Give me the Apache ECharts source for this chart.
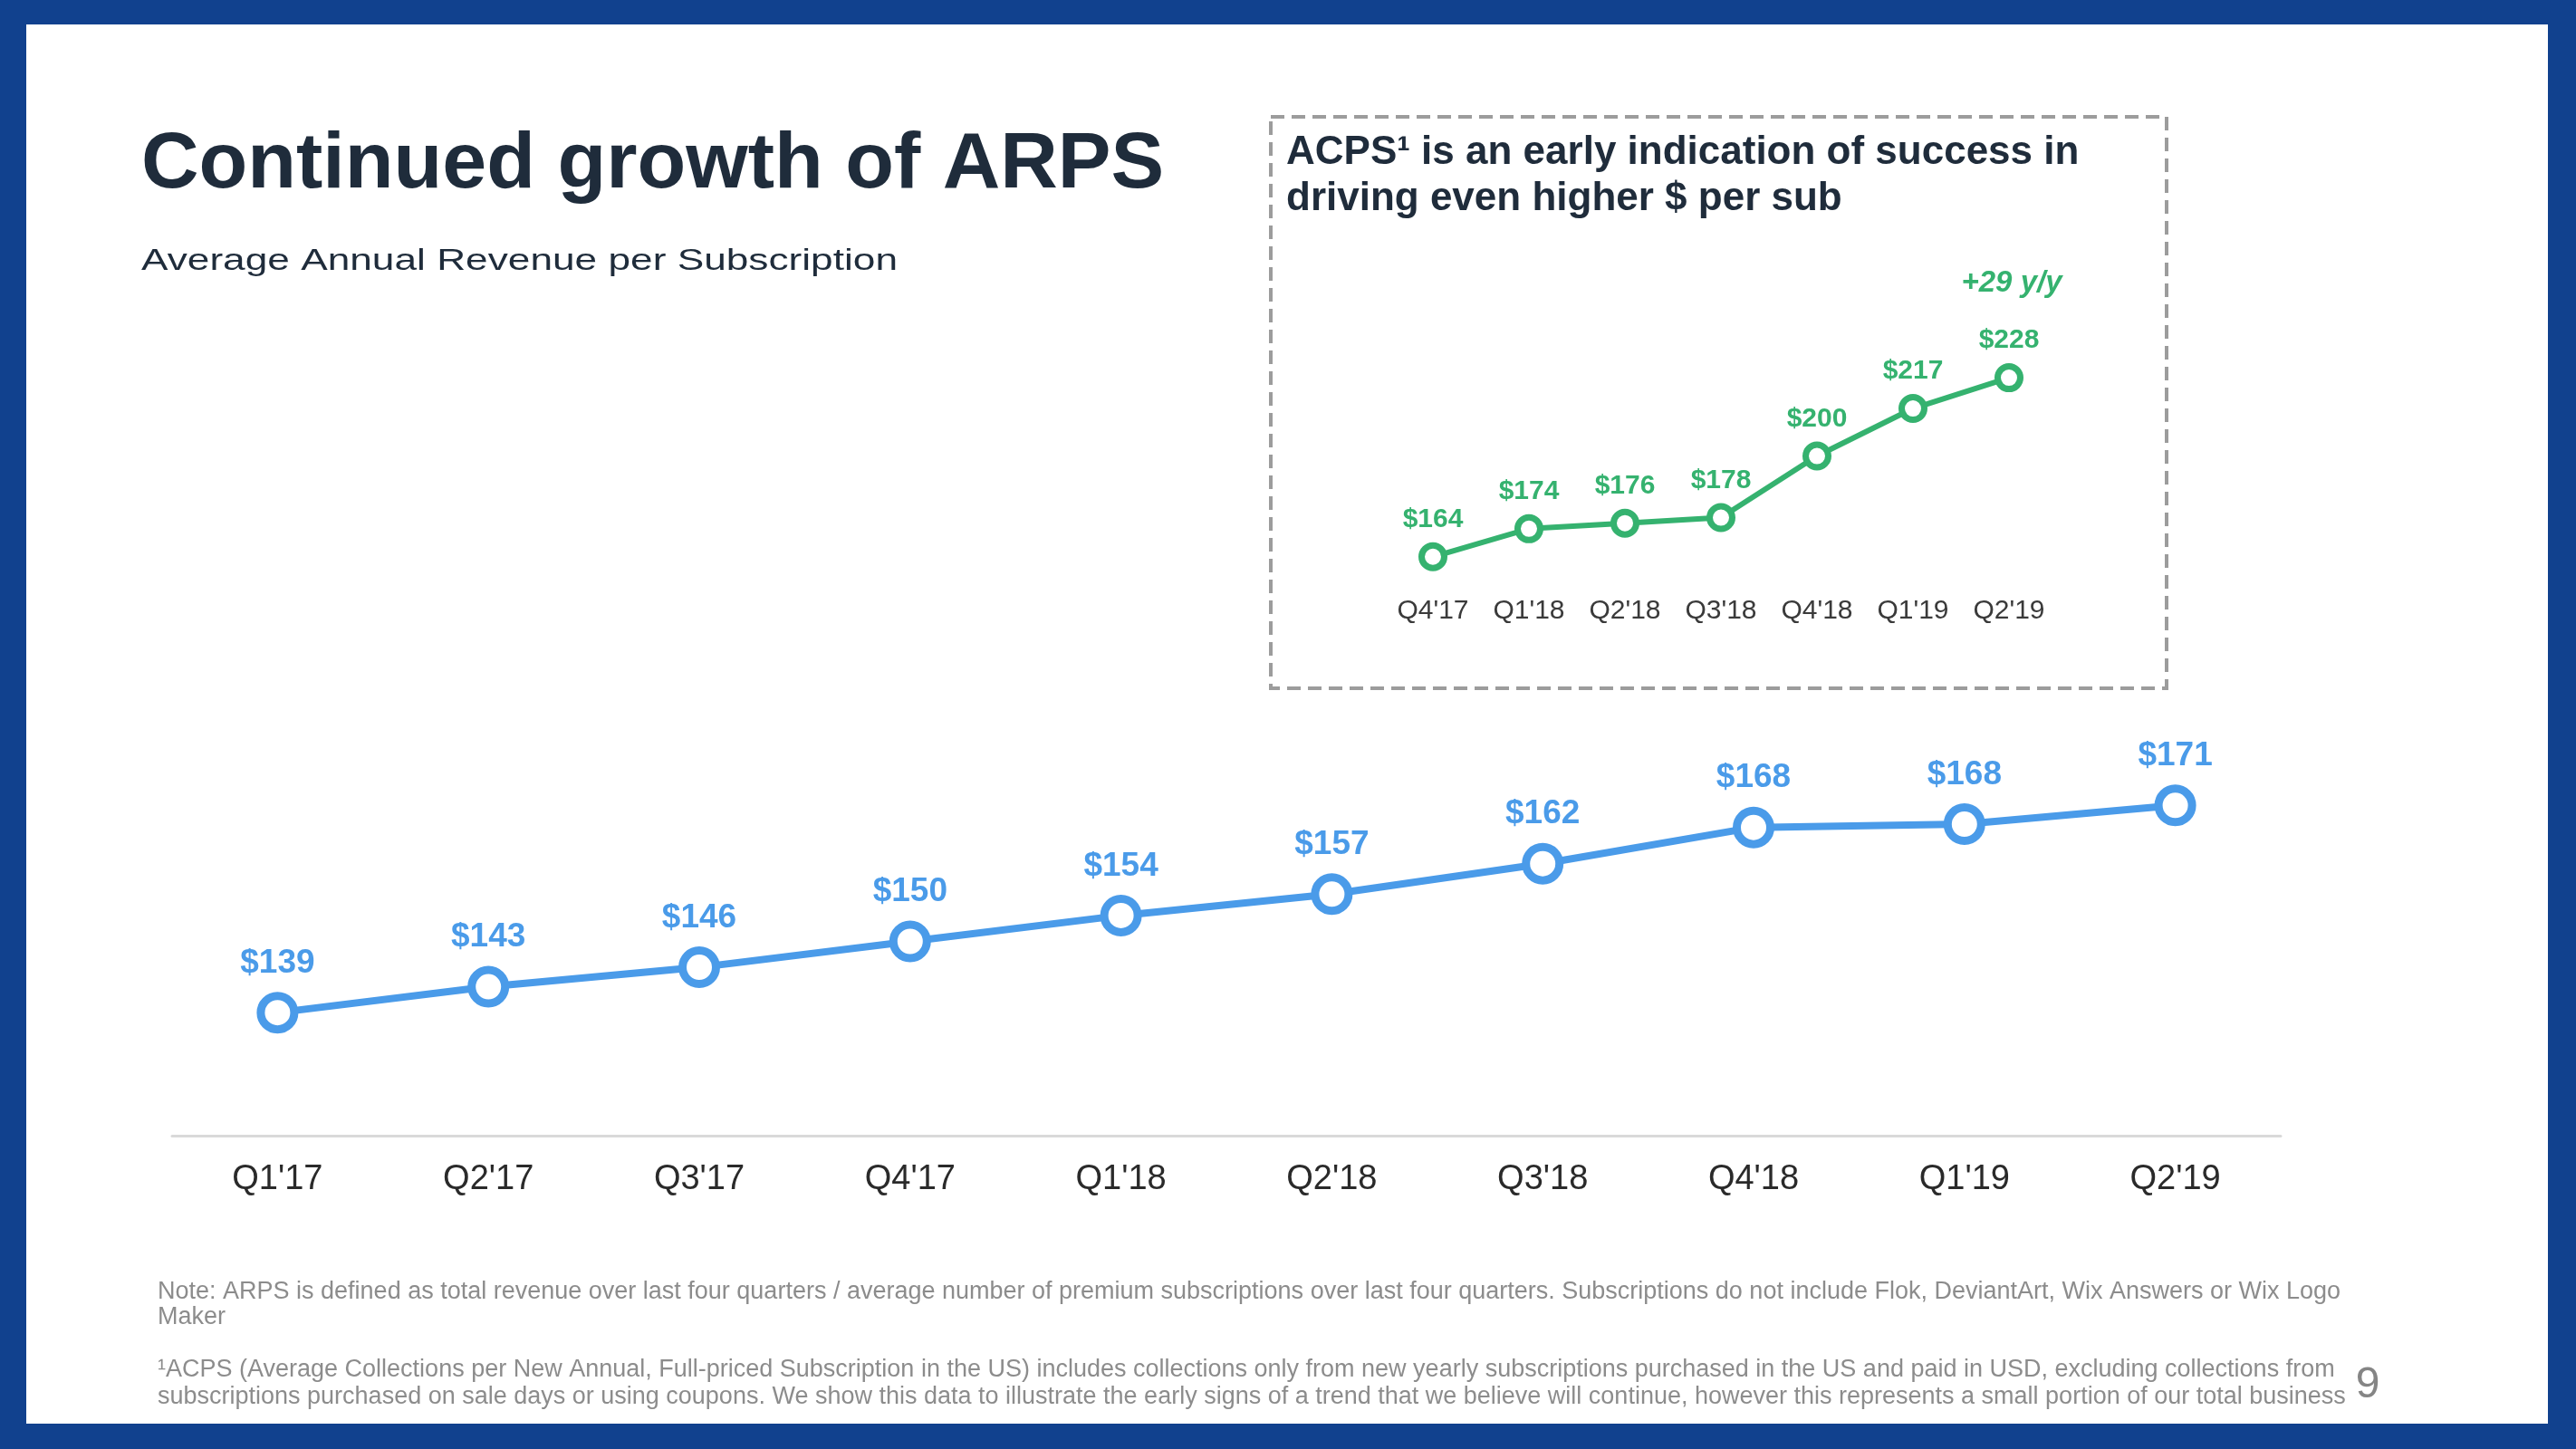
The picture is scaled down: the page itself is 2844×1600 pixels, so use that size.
<!DOCTYPE html>
<html>
<head>
<meta charset="utf-8">
<script src="https://cdn.jsdelivr.net/npm/echarts@6/dist/echarts.min.js"></script>
<style>
html,body{margin:0;padding:0;background:#11418e;}
#chart{width:2844px;height:1600px;}
</style>
</head>
<body>
<div id="chart"></div>
<script>
// Main chart: ARPS
const arpsQuarters = ["Q1'17","Q2'17","Q3'17","Q4'17","Q1'18","Q2'18","Q3'18","Q4'18","Q1'19","Q2'19"];
const arpsValues = [139, 143, 146, 150, 154, 157.3, 162, 167.6, 168.1, 171];
// Inset chart: ACPS
const acpsQuarters = ["Q4'17","Q1'18","Q2'18","Q3'18","Q4'18","Q1'19","Q2'19"];
const acpsValues = [164, 174, 176, 178, 200, 217, 228];

const titleText = 'Continued growth of ARPS';
const subtitleText = 'Average Annual Revenue per Subscription';
const insetTitle = 'ACPS\u00b9 is an early indication of success in\ndriving even higher $ per sub';
const yoyText = '+29 y/y';
const noteText = 'Note: ARPS is defined as total revenue over last four quarters / average number of premium subscriptions over last four quarters. Subscriptions do not include Flok, DeviantArt, Wix Answers or Wix Logo\nMaker';
const footText = '\u00b9ACPS (Average Collections per New Annual, Full-priced Subscription in the US) includes collections only from new yearly subscriptions purchased in the US and paid in USD, excluding collections from\nsubscriptions purchased on sale days or using coupons. We show this data to illustrate the early signs of a trend that we believe will continue, however this represents a small portion of our total business';
const pageNumber = '9';

const BLUE = '#4a9be9';
const GREEN = '#35b26f';
const NAVY = '#1f2c3b';
const FONT = '"Liberation Sans", Arial, Helvetica, sans-serif';

const chart = echarts.init(document.getElementById('chart'), null, {renderer: 'canvas'});
chart.setOption({
  backgroundColor: '#11418e',
  animation: false,
  textStyle: {fontFamily: FONT},
  graphic: {elements: [
    {type: 'rect', z: -10, shape: {x: 29, y: 27, width: 2784, height: 1545}, style: {fill: '#ffffff'}},
    {type: 'rect', z: -5, shape: {x: 1403, y: 129, width: 989, height: 631},
      style: {fill: null, stroke: '#9c9c9c', lineWidth: 4, lineDash: [15, 8]}},
    {type: 'text', x: 156, y: 183, style: {text: titleText, font: 'bold 88px ' + FONT, fill: NAVY, verticalAlign: 'middle', align: 'left'}},
    {type: 'text', x: 156, y: 289, scaleX: 1.34, style: {text: subtitleText, font: '33px ' + FONT, fill: NAVY, verticalAlign: 'middle', align: 'left'}},
    {type: 'text', x: 1420, y: 194, style: {text: insetTitle, font: 'bold 44px ' + FONT, lineHeight: 51, fill: NAVY, verticalAlign: 'middle', align: 'left'}},
    {type: 'text', x: 2221, y: 313, style: {text: yoyText, font: 'italic bold 33px ' + FONT, fill: GREEN, verticalAlign: 'middle', align: 'center'}},
    {type: 'text', x: 174, y: 1441, style: {text: noteText, font: '27px ' + FONT, lineHeight: 28, fill: '#8c8c8c', verticalAlign: 'middle', align: 'left'}},
    {type: 'text', x: 174, y: 1528, style: {text: footText, font: '27px ' + FONT, lineHeight: 30, fill: '#8c8c8c', verticalAlign: 'middle', align: 'left'}},
    {type: 'text', x: 2614, y: 1530, style: {text: pageNumber, font: '48px ' + FONT, fill: '#858585', verticalAlign: 'middle', align: 'center'}}
  ]},
  grid: [
    {left: 190, right: 326, top: 825, bottom: 346, containLabel: false},
    {left: 1529, right: 573, top: 380, bottom: 942, containLabel: false}
  ],
  xAxis: [
    {type: 'category', gridIndex: 0, data: arpsQuarters, boundaryGap: true,
      axisLine: {show: true, lineStyle: {color: '#d9d9d9', width: 3}},
      axisTick: {show: false},
      axisLabel: {interval: 0, fontSize: 38, color: '#2a2a2a', margin: 30, fontFamily: FONT}},
    {type: 'category', gridIndex: 1, data: acpsQuarters, boundaryGap: true,
      axisLine: {show: false}, axisTick: {show: false},
      axisLabel: {interval: 0, hideOverlap: false, fontSize: 30, color: '#3a3a3a', margin: 2, fontFamily: FONT}}
  ],
  yAxis: [
    {type: 'value', gridIndex: 0, min: 120, max: 180, show: false, splitLine: {show: false}},
    {type: 'value', gridIndex: 1, min: 150, max: 240, show: false, splitLine: {show: false}}
  ],
  series: [
    {type: 'line', xAxisIndex: 0, yAxisIndex: 0, data: arpsValues,
      symbol: 'circle', symbolSize: 37,
      lineStyle: {color: BLUE, width: 8},
      itemStyle: {color: '#ffffff', borderColor: BLUE, borderWidth: 9},
      label: {show: true, position: 'top', distance: 13, color: BLUE, fontSize: 37, fontWeight: 'bold', fontFamily: FONT,
        formatter: p => '$' + Math.round(p.value)}},
    {type: 'line', xAxisIndex: 1, yAxisIndex: 1, data: acpsValues,
      symbol: 'circle', symbolSize: 25,
      lineStyle: {color: GREEN, width: 6},
      itemStyle: {color: '#ffffff', borderColor: GREEN, borderWidth: 7},
      label: {show: true, position: 'top', distance: 10, color: GREEN, fontSize: 30, fontWeight: 'bold', fontFamily: FONT,
        formatter: p => '$' + Math.round(p.value)}}
  ]
});
</script>
</body>
</html>
